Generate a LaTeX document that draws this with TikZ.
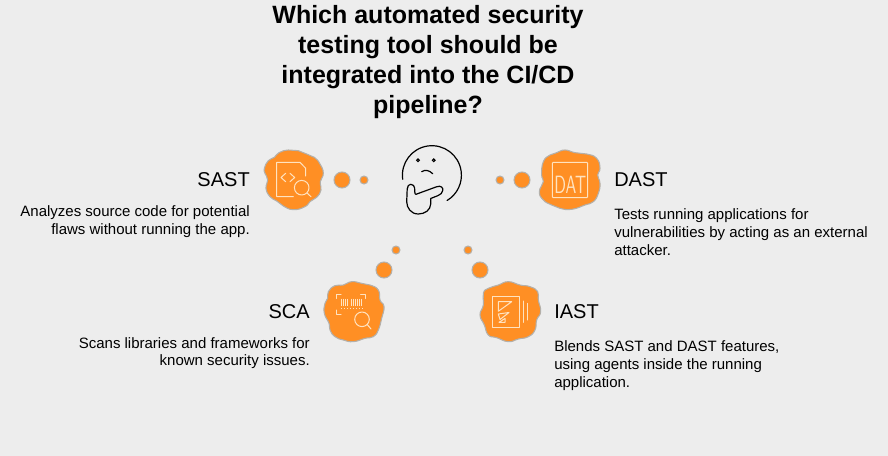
\documentclass[tikz,border=0pt]{standalone}
\usepackage{fontspec}
\setmainfont{Liberation Sans}
\definecolor{bgc}{HTML}{EDEDED}
\definecolor{orng}{HTML}{FF8F24}
\definecolor{rim}{HTML}{B4B0AA}
\definecolor{crm}{HTML}{FFE3C0}
\newcommand{\blobat}[3]{%
  \begin{scope}[shift={(#1,#2)},scale=0.33333]
    \draw[blobshape] plot[smooth cycle,tension=0.85] coordinates {#3};
  \end{scope}%
}
\newcommand{\bubble}[3]{\fill[orng,draw=rim,line width=0.75pt] (#1,#2) circle[radius=#3];}
\tikzset{
  titletext/.style={font=\fontsize{18.75}{22.3}\selectfont\bfseries,align=center,inner sep=0pt,anchor=north},
  headtext/.style={font=\fontsize{15}{18}\selectfont,inner sep=0pt},
  desctext/.style={font=\fontsize{11.25}{13.35}\selectfont,inner sep=0pt},
  icon/.style={draw=crm,line width=0.75pt,line cap=round,line join=round},
  face/.style={draw=black,line width=0.9pt,line cap=round,line join=round},
  blobshape/.style={fill=orng,draw=rim,line width=0.8pt}
}
\begin{document}
\begin{tikzpicture}[x=0.75pt,y=-0.75pt]
\useasboundingbox (0,0) rectangle (888,456);
\fill[bgc] (0,0) rectangle (888,456);

\node[titletext] (title) at (428,5.5) {Which automated security\\testing tool should be\\integrated into the CI/CD\\pipeline?};

% thinking face
\draw[face] (402.7,179.3) arc[start angle=172,end angle=419,radius=29.5];
\draw[draw=black,line width=0.8pt] (418,160.3) circle[radius=1.4];
\draw[draw=black,line width=0.8pt] (433.7,160.3) circle[radius=1.4];
\draw[face] (421.7,171.7) .. controls (425,169.5) and (429,170) .. (432.7,173.7);
\draw[face] (416,194.3) -- (436.5,186.8) .. controls (441,185) and (443.5,188) .. (442.7,190.5)
  .. controls (442,193) and (441,194.5) .. (438,195.6) -- (430.7,198.5) -- (430.7,204)
  .. controls (430.5,210) and (425,214) .. (418.3,214)
  .. controls (411,214) and (406.8,208) .. (406.7,201.7) -- (407.2,189)
  .. controls (407.3,186) and (409,184.3) .. (410.7,184.3)
  .. controls (413,184.3) and (414.5,186) .. (414.6,188) -- (414.8,192) .. controls (415,193.8) and (415.2,194.5) .. (416,194.3);

% bubbles
\bubble{342}{180}{8}
\bubble{364}{180}{4}
\bubble{500}{180}{4}
\bubble{522}{180}{8}
\bubble{396}{250}{4}
\bubble{384}{270}{8}
\bubble{468}{250}{4}
\bubble{480}{270}{8}

% SAST
\blobat{255}{140}{(28,85)(40,62)(58,52)(72,38)(100,30)(130,32)(155,42)(178,52)(195,72)(205,100)(196,125)(198,150)(185,172)(165,185)(150,200)(115,209)(85,198)(65,183)(45,170)(33,145)(38,120)(30,100)}
\draw[icon] (293.3,196.7) -- (276.7,196.7) -- (276.7,162.3) -- (300,162.3) -- (305.7,168.3) -- (305.7,176);
\draw[icon] (285.7,173.3) -- (281,177.5) -- (285.7,181.7);
\draw[icon] (290,173.3) -- (294.7,177.5) -- (290,181.7);
\draw[icon] (301.7,187.7) circle[radius=7.3];
\draw[icon] (307,193) -- (311,196.7);

% DAST
\blobat{485}{140}{(175,65)(195,45)(215,38)(240,30)(270,38)(305,42)(335,55)(345,85)(338,105)(345,130)(340,160)(325,185)(300,195)(260,208)(225,205)(200,195)(175,180)(163,155)(175,125)(170,105)}
\draw[icon,rounded corners=0.8pt] (552.3,162.3) rectangle (587.7,197.7);
\node[inner sep=0pt,text=crm,font=\fontsize{12.5}{14}\selectfont\sffamily,yscale=1.5] (dat) at (570.3,185.3) {DAT};

% SCA
\blobat{315}{235}{(40,170)(60,152)(85,150)(110,140)(140,145)(165,150)(190,165)(195,195)(207,215)(200,250)(190,285)(175,305)(150,310)(115,320)(85,315)(60,305)(45,285)(42,265)(28,235)(30,205)(38,190)}
\draw[icon] (341,294.3) -- (336.7,294.3) -- (336.7,298.5);
\draw[icon] (360.7,294.3) -- (365,294.3) -- (365,298.5);
\draw[icon] (336.7,310) -- (336.7,314.3) -- (341,314.3);
\foreach \bx/\bw in {341.5/0.7,343.5/0.7,345.5/0.9,347.5/0.7,351/0.7,353/0.7,355/0.9,357/0.7,359/0.7,361/0.7}
  \draw[crm,line width=\bw*0.75pt] (\bx,298.5) -- (\bx,306);
\draw[crm,line width=0.6pt,dash pattern=on 1pt off 1.2pt] (341,308.5) -- (362,308.5);
\draw[icon] (362,319.3) circle[radius=7.3];
\draw[icon] (367.3,324.6) -- (371,329);

% IAST
\blobat{455}{235}{(85,175)(100,160)(130,150)(160,140)(195,150)(225,155)(248,170)(250,195)(257,230)(245,255)(240,285)(220,305)(190,312)(160,320)(125,308)(100,300)(88,270)(75,240)(85,210)}
\draw[icon] (492.3,296.7) rectangle (519,327.3);
\draw[icon] (498.3,301.7) -- (511.7,301.7) -- (498.3,311.3) -- cycle;
\draw[icon] (498.3,314) -- (509,312.5) -- (500,319.5) -- cycle;
\draw[icon] (499,322.3) -- (505,322.3) -- (505,318.5) -- cycle;
\draw[icon] (523.3,301) -- (523.3,322.3);
\draw[icon] (527.7,303.3) -- (527.7,320);

% texts
\node[headtext,anchor=base east] (sastH) at (250,186.5) {SAST};
\node[headtext,anchor=base west] (dastH) at (614,186.5) {DAST};
\node[headtext,anchor=base east] (scaH) at (310,318.5) {SCA};
\node[headtext,anchor=base west] (iastH) at (554,318.5) {IAST};
\node[desctext,align=right,anchor=north east] (sastD) at (250,205.8) {Analyzes source code for potential\\flaws without running the app.};
\node[desctext,align=left,anchor=north west] (dastD) at (614,208.3) {Tests running applications for\\vulnerabilities by acting as an external\\attacker.};
\node[desctext,align=right,anchor=north east] (scaD) at (310,337) {Scans libraries and frameworks for\\known security issues.};
\node[desctext,align=left,anchor=north west] (iastD) at (554,340.3) {Blends SAST and DAST features,\\using agents inside the running\\application.};
\end{tikzpicture}
\end{document}
